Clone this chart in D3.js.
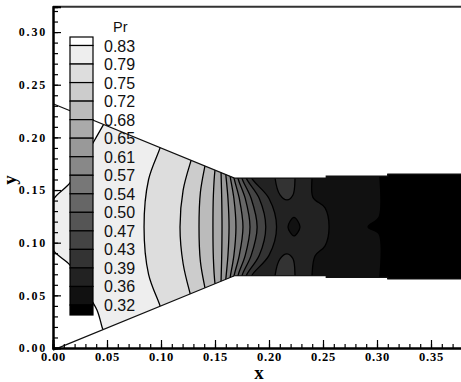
<!DOCTYPE html>
<html>
<head>
<meta charset="utf-8">
<script src="https://cdn.jsdelivr.net/npm/d3@7/dist/d3.min.js"></script>
<style>
  html, body { margin: 0; padding: 0; background: #fff; }
  svg { display: block; }
  .tick-lbl { font-family: "Liberation Serif", "Times New Roman", serif; font-weight: bold; }
  .leg-lbl { font-family: "Liberation Sans", Arial, sans-serif; }
</style>
</head>
<body>
<svg id="chart" width="461" height="382"></svg>
<script>
// Pressure-ratio contour levels (legend) and the grey fill of each band
const levels = [0.83, 0.79, 0.75, 0.72, 0.68, 0.65, 0.61, 0.57, 0.54, 0.50, 0.47, 0.43, 0.39, 0.36, 0.32];
const bandGrays = ["#ffffff", "#eeeeee", "#dddddd", "#cccccc", "#bbbbbb", "#aaaaaa", "#999999", "#888888",
                   "#777777", "#666666", "#555555", "#444444", "#333333", "#222222", "#111111", "#000000"];

// Tick labels
const xTickLabels = ["0.00", "0.05", "0.10", "0.15", "0.20", "0.25", "0.30", "0.35"];
const yTickLabels = ["0.00", "0.05", "0.10", "0.15", "0.20", "0.25", "0.30"];

// Nozzle walls (x, y): converging section, then the straight channel blocks
const upperWall = [[0, 0.232], [0.168, 0.1614], [0.253, 0.1614], [0.253, 0.1633], [0.310, 0.1633], [0.310, 0.1652], [0.40, 0.1652]];
const lowerWall = [[0, -0.002], [0.168, 0.0686], [0.253, 0.0686], [0.253, 0.0670], [0.310, 0.0670], [0.310, 0.0655], [0.40, 0.0655]];

// Iso-lines of Pr, one list of (x, y) points per level, running from the upper wall to the lower wall
const c083 = [[0.049, 0.216], [0.047, 0.2126], [0.037, 0.1947], [0.025, 0.1738], [0.0157, 0.1567], [0, 0.1406], [-0.006, 0.115], [0, 0.0931], [0.0157, 0.0788], [0.028, 0.058], [0.0407, 0.0361], [0.0454, 0.0199], [0.047, 0.015]];
const c079 = [[0.1005, 0.196], [0.0991, 0.190], [0.0885, 0.160], [0.0843, 0.115], [0.0885, 0.070], [0.0991, 0.040], [0.1005, 0.034]];
const c075 = [[0.129, 0.182], [0.1278, 0.178], [0.1205, 0.150], [0.1176, 0.115], [0.1205, 0.080], [0.1269, 0.052], [0.128, 0.048]];
const c072 = [[0.1415, 0.177], [0.1407, 0.173], [0.1365, 0.148], [0.1352, 0.115], [0.1365, 0.082], [0.1407, 0.057], [0.1415, 0.053]];
const c068 = [[0.1505, 0.172], [0.150, 0.169], [0.1485, 0.145], [0.1481, 0.115], [0.1485, 0.085], [0.150, 0.061], [0.1505, 0.058]];
const c065 = [[0.1556, 0.170], [0.1556, 0.1667], [0.1562, 0.143], [0.1565, 0.115], [0.1562, 0.087], [0.1556, 0.0633], [0.1556, 0.060]];
const c061 = [[0.1598, 0.168], [0.160, 0.165], [0.1620, 0.142], [0.1630, 0.115], [0.1620, 0.088], [0.160, 0.065], [0.1598, 0.062]];
const c057 = [[0.1635, 0.167], [0.164, 0.1631], [0.1675, 0.142], [0.1694, 0.115], [0.1675, 0.088], [0.164, 0.0669], [0.1635, 0.063]];
const c054 = [[0.1672, 0.166], [0.1676, 0.1616], [0.1725, 0.142], [0.1759, 0.115], [0.1725, 0.088], [0.1676, 0.0684], [0.1672, 0.064]];
const c050 = [[0.1713, 0.166], [0.1713, 0.1614], [0.178, 0.142], [0.1824, 0.115], [0.178, 0.088], [0.1713, 0.0686], [0.1713, 0.064]];
const c047 = [[0.175, 0.166], [0.175, 0.1614], [0.1835, 0.142], [0.189, 0.115], [0.1835, 0.088], [0.175, 0.0686], [0.175, 0.064]];
const c043 = [[0.179, 0.166], [0.179, 0.1614], [0.191, 0.142], [0.197, 0.115], [0.191, 0.088], [0.179, 0.0686], [0.179, 0.064]];
const c039 = [[0.184, 0.166], [0.184, 0.1614], [0.200, 0.142], [0.207, 0.115], [0.200, 0.088], [0.184, 0.0686], [0.184, 0.064]];
const c036 = [[0.2398, 0.166], [0.2398, 0.1614], [0.2407, 0.143], [0.2519, 0.133], [0.2556, 0.115], [0.2519, 0.097], [0.2426, 0.0874], [0.2398, 0.0686], [0.2398, 0.064]];
const c032 = [[0.3019, 0.17], [0.3019, 0.1244], [0.2917, 0.115], [0.3019, 0.1083], [0.3019, 0.06]];
const isoLines = [c083, c079, c075, c072, c068, c065, c061, c057, c054, c050, c047, c043, c039, c036, c032];

// Closed islands in the channel: two Pr 0.39 lobes at the walls and a Pr 0.36 core on the axis
const lobeUpper = [[0.2056, 0.166], [0.2056, 0.1614], [0.2102, 0.1453], [0.2167, 0.1406], [0.2222, 0.1453], [0.2241, 0.1614], [0.2241, 0.166]];
const lobeLower = [[0.2056, 0.064], [0.2056, 0.0686], [0.2102, 0.0847], [0.2167, 0.0894], [0.2222, 0.0847], [0.2241, 0.0686], [0.2241, 0.064]];
const coreIsland = [[0.2176, 0.115], [0.2231, 0.1240], [0.2287, 0.115], [0.2231, 0.1065]];
const islands = [
  { pts: lobeUpper, level: 0.39, band: 12, closed: false },
  { pts: lobeLower, level: 0.39, band: 12, closed: false },
  { pts: coreIsland, level: 0.36, band: 14, closed: true }
];

const svg = d3.select("#chart");
const W = 461, H = 382;

const xS = d3.scaleLinear().domain([0, 0.38]).range([53, 463.4]);
const yS = d3.scaleLinear().domain([0, 0.324]).range([348, 6.8]);

// Nozzle outline as a closed polygon
const outline = upperWall.concat(lowerWall.slice().reverse());
const polyLine = d3.line().x(d => xS(d[0])).y(d => yS(d[1]));
const smooth = d3.line().x(d => xS(d[0])).y(d => yS(d[1])).curve(d3.curveCatmullRom.alpha(0.5));

svg.append("defs").append("clipPath").attr("id", "nozzle")
  .append("path").attr("d", polyLine(outline) + "Z");

const field = svg.append("g").attr("clip-path", "url(#nozzle)");

// Band above the highest level
field.append("path").attr("d", polyLine(outline) + "Z").attr("fill", bandGrays[0]);

// Each level paints the downstream side of its iso-line with the next band
isoLines.forEach((pts, k) => {
  const d = smooth(pts) + `L${xS(0.6)},${yS(-0.2)}L${xS(0.6)},${yS(0.5)}Z`;
  field.append("path").attr("d", d).attr("fill", bandGrays[k + 1]);
});

// Islands
const closedSmooth = d3.line().x(d => xS(d[0])).y(d => yS(d[1])).curve(d3.curveCatmullRomClosed.alpha(0.5));
islands.forEach(isl => {
  const d = isl.closed ? closedSmooth(isl.pts) : smooth(isl.pts) + "Z";
  field.append("path").attr("d", d).attr("fill", bandGrays[isl.band]);
});

// Iso-line strokes
isoLines.forEach(pts => {
  field.append("path").attr("d", smooth(pts))
    .attr("fill", "none").attr("stroke", "#000").attr("stroke-width", 1.3);
});
islands.forEach(isl => {
  const d = isl.closed ? closedSmooth(isl.pts) : smooth(isl.pts);
  field.append("path").attr("d", d)
    .attr("fill", "none").attr("stroke", "#000").attr("stroke-width", 1.3);
});

// Walls
svg.append("path").attr("d", polyLine(upperWall)).attr("fill", "none").attr("stroke", "#111").attr("stroke-width", 1.2);
svg.append("path").attr("d", polyLine(lowerWall)).attr("fill", "none").attr("stroke", "#111").attr("stroke-width", 1.2);

// Frame and axes
const minorTicks = d3.range(0, 39).map(i => i / 100);
const minorYTicks = d3.range(0, 33).map(i => i / 100);
const majorX = xTickLabels.map(Number);
const majorY = yTickLabels.map(Number);

svg.append("line").attr("x1", 53).attr("x2", W).attr("y1", yS(0.324)).attr("y2", yS(0.324))
  .attr("stroke", "#333").attr("stroke-width", 2);

const gx = svg.append("g").attr("transform", `translate(0,${yS(0)})`);
gx.call(d3.axisBottom(xS).tickValues(minorTicks).tickSize(-4).tickFormat(""));
gx.call(g => g.append("g").call(d3.axisBottom(xS).tickValues(majorX).tickSize(-8).tickPadding(4)
  .tickFormat((d, i) => xTickLabels[i])));
gx.selectAll(".domain").attr("stroke", "#000").attr("stroke-width", 2);
gx.selectAll("line").attr("stroke", "#000").attr("stroke-width", 1.2);
gx.selectAll("text").attr("class", "tick-lbl").attr("font-size", 12.5).attr("fill", "#000")
  .attr("letter-spacing", "0.8px");

const gy = svg.append("g").attr("transform", `translate(${xS(0)},0)`);
gy.call(d3.axisLeft(yS).tickValues(minorYTicks).tickSize(-5).tickFormat(""));
gy.call(g => g.append("g").call(d3.axisLeft(yS).tickValues(majorY).tickSize(-8).tickPadding(6)
  .tickFormat((d, i) => yTickLabels[i])));
gy.selectAll(".domain").attr("stroke", "#000").attr("stroke-width", 2);
gy.selectAll("line").attr("stroke", "#000").attr("stroke-width", 1.2);
gy.selectAll("text").attr("class", "tick-lbl").attr("font-size", 12).attr("fill", "#000")
  .attr("letter-spacing", "1.8px");
svg.selectAll(".domain").attr("fill", "none");

// Axis titles
svg.append("text").attr("x", 259).attr("y", 379).attr("text-anchor", "middle")
  .attr("class", "tick-lbl").attr("font-size", 19).text("x");
svg.append("text").attr("transform", "translate(16,180) rotate(-90)").attr("text-anchor", "middle")
  .attr("class", "tick-lbl").attr("font-size", 19).text("y");

// Legend
const legTop = 37, legBottom = 315, boxX = 70, boxW = 23;
const legY = d3.scaleLinear().domain([0, levels.length - 1]).range([45.5, 305]);
const legend = svg.append("g");
bandGrays.forEach((c, i) => {
  const y0 = i === 0 ? legTop : legY(i - 1);
  const y1 = i === bandGrays.length - 1 ? legBottom : legY(i);
  legend.append("rect").attr("x", boxX).attr("y", y0).attr("width", boxW).attr("height", y1 - y0)
    .attr("fill", c).attr("stroke", "#000").attr("stroke-width", 1.2);
});
levels.forEach((v, i) => {
  legend.append("text").attr("class", "leg-lbl").attr("x", 104).attr("y", legY(i) + 6)
    .attr("font-size", 16).attr("fill", "#111").text(v.toFixed(2));
});
legend.append("text").attr("class", "leg-lbl").attr("x", 113).attr("y", 32)
  .attr("font-size", 14.5).attr("fill", "#111").text("Pr");
</script>
</body>
</html>
